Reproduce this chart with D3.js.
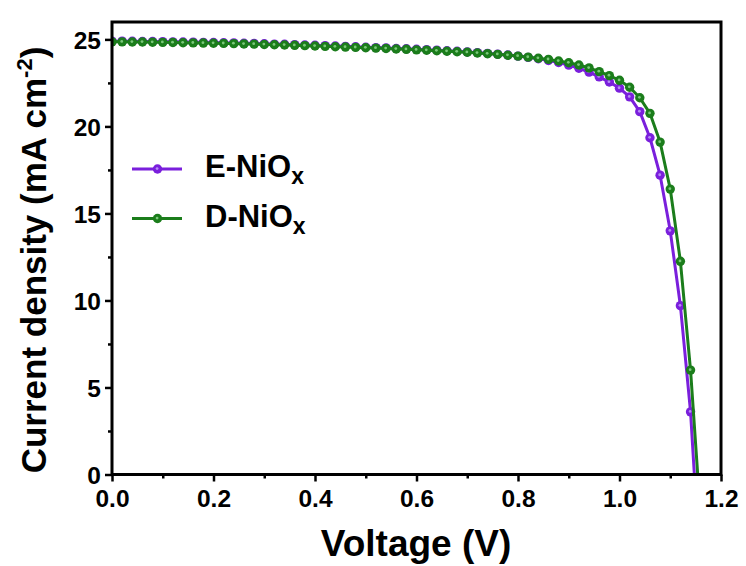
<!DOCTYPE html>
<html>
<head>
<meta charset="utf-8">
<script src="https://cdn.jsdelivr.net/npm/d3@7"></script>
<style>
  html, body { margin: 0; padding: 0; background: #fff; }
  svg { display: block; font-family: "Liberation Sans", Arial, sans-serif; font-weight: bold; }
</style>
</head>
<body>
<svg id="chart" width="746" height="566"></svg>
<script>
// ---- data ----
const voltage = [0.00,0.02,0.04,0.06,0.08,0.10,0.12,0.14,0.16,0.18,0.20,0.22,0.24,0.26,0.28,0.30,0.32,0.34,0.36,0.38,0.40,0.42,0.44,0.46,0.48,0.50,0.52,0.54,0.56,0.58,0.60,0.62,0.64,0.66,0.68,0.70,0.72,0.74,0.76,0.78,0.80,0.82,0.84,0.86,0.88,0.90,0.92,0.94,0.96,0.98,1.00,1.02,1.04,1.06,1.08,1.10,1.12,1.14,1.16];
const jE = [24.90,24.90,24.89,24.88,24.88,24.87,24.86,24.85,24.84,24.83,24.82,24.81,24.80,24.78,24.77,24.75,24.73,24.72,24.70,24.68,24.66,24.64,24.62,24.60,24.58,24.55,24.53,24.51,24.48,24.46,24.43,24.41,24.38,24.35,24.32,24.28,24.24,24.20,24.15,24.10,24.04,23.97,23.89,23.79,23.67,23.52,23.34,23.12,22.85,22.55,22.20,21.70,20.85,19.35,17.20,14.00,9.70,3.60,-6.00];
const jD = [24.86,24.86,24.85,24.85,24.84,24.83,24.82,24.81,24.80,24.79,24.78,24.77,24.76,24.74,24.73,24.71,24.69,24.68,24.66,24.64,24.62,24.60,24.58,24.56,24.54,24.52,24.50,24.48,24.45,24.43,24.40,24.38,24.35,24.32,24.29,24.26,24.22,24.18,24.14,24.09,24.04,23.98,23.92,23.85,23.76,23.66,23.53,23.36,23.15,22.92,22.65,22.25,21.65,20.75,19.10,16.40,12.25,6.00,-2.50];
const seriesNames = ["E-NiO", "D-NiO"];
const seriesColors = ["#7a1fdc", "#1b7d1b"];
const seriesInner = ["#b58cf5", "#7cc87c"];
const xTicks = [0.0, 0.2, 0.4, 0.6, 0.8, 1.0, 1.2];
const xMinor = [0.1, 0.3, 0.5, 0.7, 0.9, 1.1];
const yTicks = [0, 5, 10, 15, 20, 25];
const yMinor = [2.5, 7.5, 12.5, 17.5, 22.5];

// ---- layout ----
const svg = d3.select("#chart");
const L = 112, R = 721, T = 22, B = 474.5;
const x = d3.scaleLinear().domain([0, 1.2]).range([L, R]);
const y = d3.scaleLinear().domain([0, 26]).range([B, T]);

svg.append("defs").append("clipPath").attr("id", "plotclip")
  .append("rect").attr("x", L).attr("y", T).attr("width", R - L).attr("height", B - T);

// axes
const xAxis = svg.append("g").attr("transform", `translate(0,${B})`)
  .call(d3.axisBottom(x).tickValues(xTicks).tickFormat(d3.format(".1f")).tickSizeInner(7).tickSizeOuter(0).tickPadding(5));
const xAxisMinor = svg.append("g").attr("transform", `translate(0,${B})`)
  .call(d3.axisBottom(x).tickValues(xMinor).tickFormat("").tickSizeInner(4).tickSizeOuter(0));
const yAxis = svg.append("g").attr("transform", `translate(${L},0)`)
  .call(d3.axisLeft(y).tickValues(yTicks).tickSizeInner(7).tickSizeOuter(0).tickPadding(4));
const yAxisMinor = svg.append("g").attr("transform", `translate(${L},0)`)
  .call(d3.axisLeft(y).tickValues(yMinor).tickFormat("").tickSizeInner(4).tickSizeOuter(0));

[xAxis, xAxisMinor, yAxis, yAxisMinor].forEach(g => {
  g.select(".domain").remove();
  g.selectAll(".tick line").attr("stroke", "#000").attr("stroke-width", 2.5);
  g.selectAll(".tick text").attr("fill", "#000").attr("font-size", 24.5).attr("font-weight", "bold")
    .attr("font-family", "Liberation Sans, Arial, sans-serif");
});
xAxis.selectAll(".tick text").attr("dy", "0.85em");
yAxis.selectAll(".tick text").attr("dy", "0.36em");

// data lines
const data = [jE, jD].map((arr, i) => voltage.map((v, k) => ({ v, j: arr[k] })));
const line = d3.line().x(d => x(d.v)).y(d => y(d.j));
const plot = svg.append("g").attr("clip-path", "url(#plotclip)");
data.forEach((pts, i) => {
  const g = plot.append("g");
  g.append("path").datum(pts).attr("d", line).attr("fill", "none")
    .attr("stroke", seriesColors[i]).attr("stroke-width", 3).attr("stroke-linejoin", "round");
  g.selectAll("circle.m").data(pts).join("circle").attr("class", "m")
    .attr("cx", d => x(d.v)).attr("cy", d => y(d.j)).attr("r", 4.7).attr("fill", seriesColors[i]);
  g.selectAll("circle.c").data(pts).join("circle").attr("class", "c")
    .attr("cx", d => x(d.v) - 0.4).attr("cy", d => y(d.j) - 0.4).attr("r", 1.4).attr("fill", seriesInner[i]);
});

// frame
svg.append("rect").attr("x", L).attr("y", T).attr("width", R - L).attr("height", B - T)
  .attr("fill", "none").attr("stroke", "#000").attr("stroke-width", 3);

// legend
const legY = [169, 218.5];
seriesNames.forEach((name, i) => {
  const g = svg.append("g");
  g.append("line").attr("x1", 132).attr("x2", 182).attr("y1", legY[i]).attr("y2", legY[i])
    .attr("stroke", seriesColors[i]).attr("stroke-width", 3);
  g.append("circle").attr("cx", 157.5).attr("cy", legY[i]).attr("r", 4.7).attr("fill", seriesColors[i]);
  g.append("circle").attr("cx", 157.1).attr("cy", legY[i] - 0.4).attr("r", 1.4).attr("fill", seriesInner[i]);
  const t = g.append("text").attr("x", 205).attr("y", legY[i] + 8).attr("font-size", 31).attr("fill", "#000");
  t.append("tspan").text(name);
  t.append("tspan").attr("font-size", 23).attr("dy", 7).text("x");
});

// axis titles
svg.append("text").attr("x", 416).attr("y", 556).attr("text-anchor", "middle")
  .attr("font-size", 37).attr("fill", "#000").text("Voltage (V)");
const yt = svg.append("text").attr("transform", "translate(46,260) rotate(-90)")
  .attr("text-anchor", "middle").attr("font-size", 35).attr("fill", "#000");
yt.append("tspan").text("Current density (mA cm");
yt.append("tspan").attr("font-size", 22).attr("dy", -14).text("-2");
yt.append("tspan").attr("dy", 14).text(")");
</script>
</body>
</html>
